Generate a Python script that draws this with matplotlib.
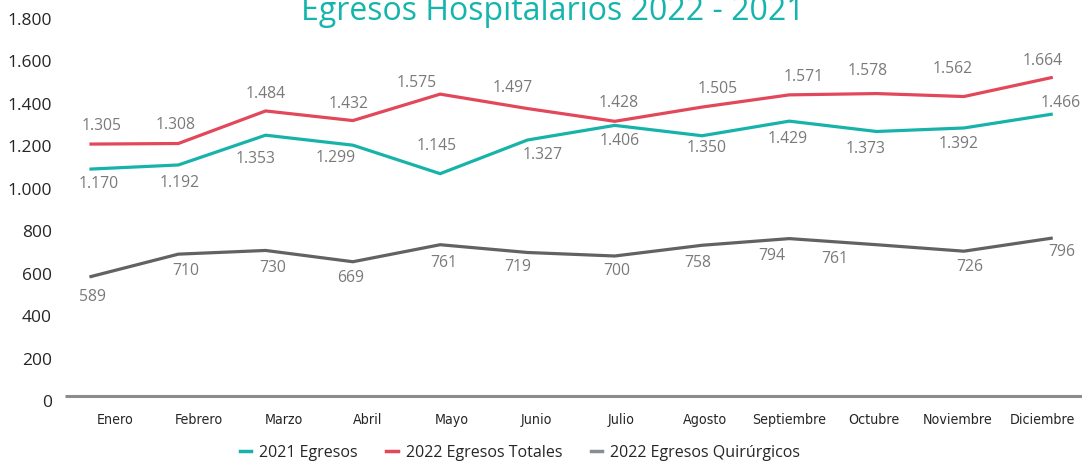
import matplotlib
matplotlib.use("Agg")
import matplotlib.pyplot as plt
from matplotlib.lines import Line2D
from matplotlib.ticker import FuncFormatter

meses = ["Enero", "Febrero", "Marzo", "Abril", "Mayo", "Junio", "Julio",
         "Agosto", "Septiembre", "Octubre", "Noviembre", "Diciembre"]
egresos_2021 = [1170, 1192, 1353, 1299, 1145, 1327, 1406, 1350, 1429, 1373, 1392, 1466]
totales_2022 = [1305, 1308, 1484, 1432, 1575, 1497, 1428, 1505, 1571, 1578, 1562, 1664]
quirurgicos_2022 = [589, 710, 730, 669, 761, 719, 700, 758, 794, 761, 726, 796]
y_ticks = [0, 200, 400, 600, 800, 1000, 1200, 1400, 1600, 1800]

# donde va cada etiqueta respecto a su punto (pixeles, x derecha / y abajo)
off_2021 = [(8, 15), (1, 18), (-10, 24), (-17, 13), (-3, -28), (15, 15),
            (5, 16), (5, 12), (-2, 18), (-11, 18), (-5, 16), (10, -11)]
off_tot = [(11, -18), (-3, -19), (0, -17), (-4, -17), (-23, -11), (-15, -21),
           (4, -18), (16, -18), (14, -18), (-9, -23), (-11, -28), (-8, -17)]
off_qui = [(1, 20), (7, 17), (7, 18), (-2, 16), (4, 18), (-10, 15),
           (2, 15), (-4, 18), (-18, 17), (-42, 14), (6, 16), (11, 14)]

teal = "#17B3AA"
rojo = "#E2475A"
gris = "#606264"
gris_leg = "#858D95"

W, H = 1082, 463
fig = plt.figure(figsize=(W / 100, H / 100), dpi=100)
pos = [65 / W, (H - 410) / H, 1017 / W, 400 / H]

# ejes de las etiquetas (escala del eje vertical y meses)
ax = fig.add_axes(pos)
ax.set_xlim(-0.594, 11.473)
ax.set_ylim(-42.4, 1842.4)
ax.set_yticks(y_ticks)
ax.yaxis.set_major_formatter(FuncFormatter(lambda v, p: f"{int(v):,}".replace(",", ".")))
ax.set_xticks(range(len(meses)))
ax.set_xticklabels(meses, family="DejaVu Sans", stretch="condensed", fontsize=10.2,
                   color="#262626")
for lab in ax.get_yticklabels():
    lab.set_family(["Open Sans", "DejaVu Sans"])
    lab.set_fontsize(12.5)
    lab.set_color("#262626")
ax.tick_params(axis="both", length=0)
ax.tick_params(axis="y", pad=9.5)
ax.tick_params(axis="x", pad=2.5)
for s in ax.spines.values():
    s.set_visible(False)
ax.patch.set_alpha(0)
ax.plot([0, 1], [0.035, 0.035], transform=ax.transAxes, color="#8C8C8C", lw=2.2,
        solid_capstyle="butt", clip_on=False)

# ejes de los datos
ax2 = fig.add_axes(pos)
ax2.set_xlim(-0.298, 11.353)
ax2.set_ylim(-132.4, 2029.7)
ax2.axis("off")

x = range(len(meses))
series = [
    (egresos_2021, teal, off_2021),
    (totales_2022, rojo, off_tot),
    (quirurgicos_2022, gris, off_qui),
]
for vals, col, offs in series:
    ax2.plot(x, vals, color=col, lw=2.3, solid_joinstyle="miter")
    for i, v in enumerate(vals):
        dx, dy = offs[i]
        ax2.annotate(f"{v:,}".replace(",", "."), (i, v), xytext=(dx, -dy),
                     textcoords="offset pixels", ha="center", va="center",
                     fontsize=11.3, color="#7A7A7A", family=["Open Sans", "DejaVu Sans"])

fig.text(553 / W, (H - 20) / H, "Egresos Hospitalarios 2022 - 2021", ha="center",
         va="baseline", fontsize=23, color="#13B5AC", family=["Open Sans", "DejaVu Sans"])

handles = [Line2D([], [], color=teal, lw=2.5),
           Line2D([], [], color=rojo, lw=2.5),
           Line2D([], [], color=gris_leg, lw=2.5)]
fig.legend(handles, ["2021 Egresos", "2022 Egresos Totales", "2022 Egresos Quirúrgicos"],
           loc="center", bbox_to_anchor=(520 / W, 10 / H), ncol=3, frameon=False,
           handlelength=0.7, handletextpad=0.5, columnspacing=1.8,
           prop={"family": ["Open Sans", "DejaVu Sans"], "size": 11.5},
           labelcolor="#262626")

fig.savefig("out.png", dpi=100)
